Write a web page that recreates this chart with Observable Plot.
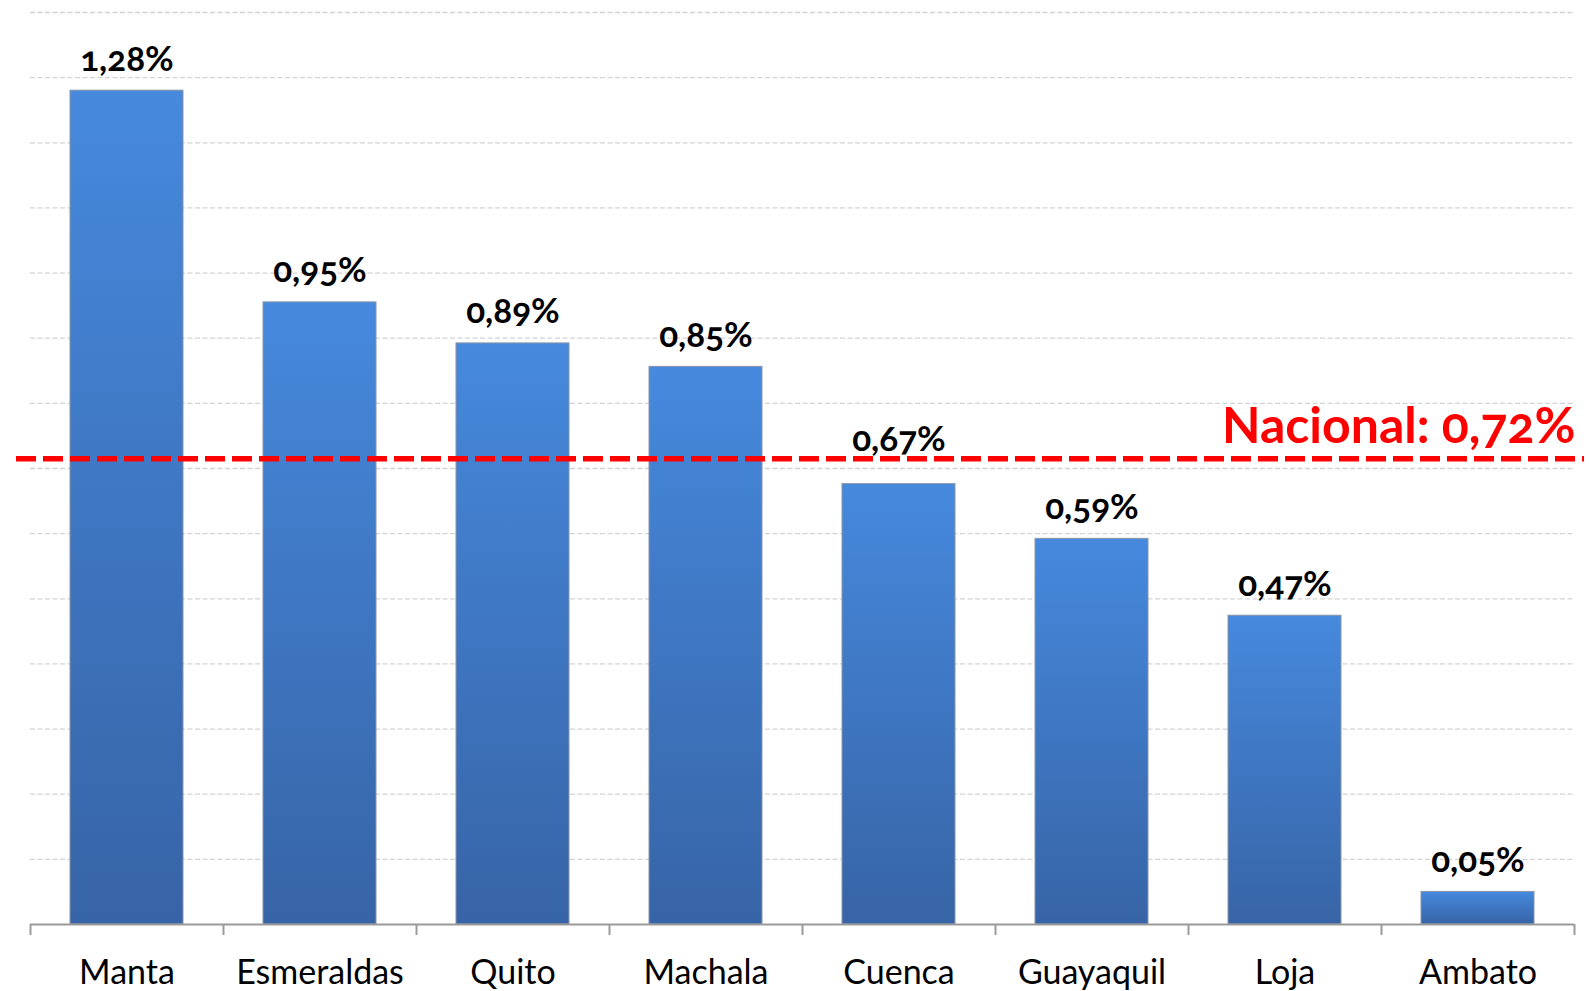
<!DOCTYPE html>
<html>
<head>
<meta charset="utf-8">
<script src="https://cdn.jsdelivr.net/npm/d3@7"></script>
<script src="https://cdn.jsdelivr.net/npm/@observablehq/plot@0.6"></script>
<style>
  html, body { margin: 0; padding: 0; background: #fff; }
  #chart svg { display: block; }
</style>
</head>
<body>
<div id="chart"></div>
<script>
const ciudades = ["Manta", "Esmeraldas", "Quito", "Machala", "Cuenca", "Guayaquil", "Loja", "Ambato"];
const valores = [1.28, 0.955, 0.892, 0.856, 0.676, 0.592, 0.474, 0.05];
const etiquetas = ["1,28%", "0,95%", "0,89%", "0,85%", "0,67%", "0,59%", "0,47%", "0,05%"];
const nacional = 0.715;
const nacionalTexto = "Nacional: 0,72%";
const gridTicks = [0.1, 0.2, 0.3, 0.4, 0.5, 0.6, 0.7, 0.8, 0.9, 1.0, 1.1, 1.2, 1.3, 1.4];

const data = ciudades.map((c, i) => ({ciudad: c, valor: valores[i], etiqueta: etiquetas[i]}));

const W = 1590, H = 991;
const mL = 30, mR = 16, mT = 12, mB = 67;
const step = (W - mL - mR) / ciudades.length;
const FONT = "Lato, 'Open Sans', sans-serif";

// labels just below the national line are lifted above it to avoid overlap
const nearLine = d => d.valor < nacional && d.valor > nacional - 0.1;

const chart = Plot.plot({
  width: W,
  height: H,
  marginLeft: mL,
  marginRight: mR,
  marginTop: mT,
  marginBottom: mB,
  style: { fontFamily: FONT, background: "white", overflow: "visible" },
  x: { domain: ciudades, paddingInner: 0.415, paddingOuter: 0.2075, label: null },
  y: { domain: [0, 1.4], axis: null, label: null },
  marks: [
    Plot.gridY(gridTicks, { stroke: "#d4d4d4", strokeOpacity: 1, strokeWidth: 1.3, strokeDasharray: "5,2.5" }),
    Plot.barY(data, { x: "ciudad", y: "valor", fill: "url(#barGrad)", stroke: "#8a96a8", strokeWidth: 1 }),
    Plot.ruleY([0], { stroke: "#9a9a9a", strokeWidth: 2 }),
    Plot.axisX({ tickSize: 11, text: null, dx: -step / 2, stroke: "#9a9a9a", strokeWidth: 2 }),
    Plot.axisX({ ticks: [ciudades[ciudades.length - 1]], tickSize: 11, text: null, dx: step / 2, stroke: "#9a9a9a", strokeWidth: 2 }),
    Plot.axisX({ tickSize: 0, tickPadding: 35, fontSize: 34, fill: "#000", tickFormat: d => d }),
    Plot.ruleY([nacional], { stroke: "#ff0000", strokeWidth: 5.5, strokeDasharray: "20,7", insetLeft: -14, insetRight: -10 }),
    Plot.text(data, { filter: d => !nearLine(d), x: "ciudad", y: "valor", text: "etiqueta", lineAnchor: "bottom", dy: -20,
      fontSize: 35, fontWeight: "bold", fill: "#000" }),
    Plot.text(data, { filter: nearLine, x: "ciudad", y: "valor", text: "etiqueta", lineAnchor: "bottom", dy: -33,
      fontSize: 35, fontWeight: "bold", fill: "#000" }),
    Plot.text([nacional], { y: d => d, text: () => nacionalTexto, frameAnchor: "right", textAnchor: "end",
      lineAnchor: "bottom", dy: -16, dx: 1, fontSize: 50, fontWeight: "bold", fill: "#ff0000" })
  ]
});

// gradient definition for bars
const svg = d3.select(chart);
const defs = svg.insert("defs", ":first-child");
const grad = defs.append("linearGradient").attr("id", "barGrad")
  .attr("x1", 0).attr("y1", 0).attr("x2", 0).attr("y2", 1);
grad.append("stop").attr("offset", "0%").attr("stop-color", "#4689dd");
grad.append("stop").attr("offset", "100%").attr("stop-color", "#3764a6");

svg.selectAll("text").style("font-variant-numeric", "oldstyle-nums");

document.getElementById("chart").appendChild(chart);
</script>
</body>
</html>
